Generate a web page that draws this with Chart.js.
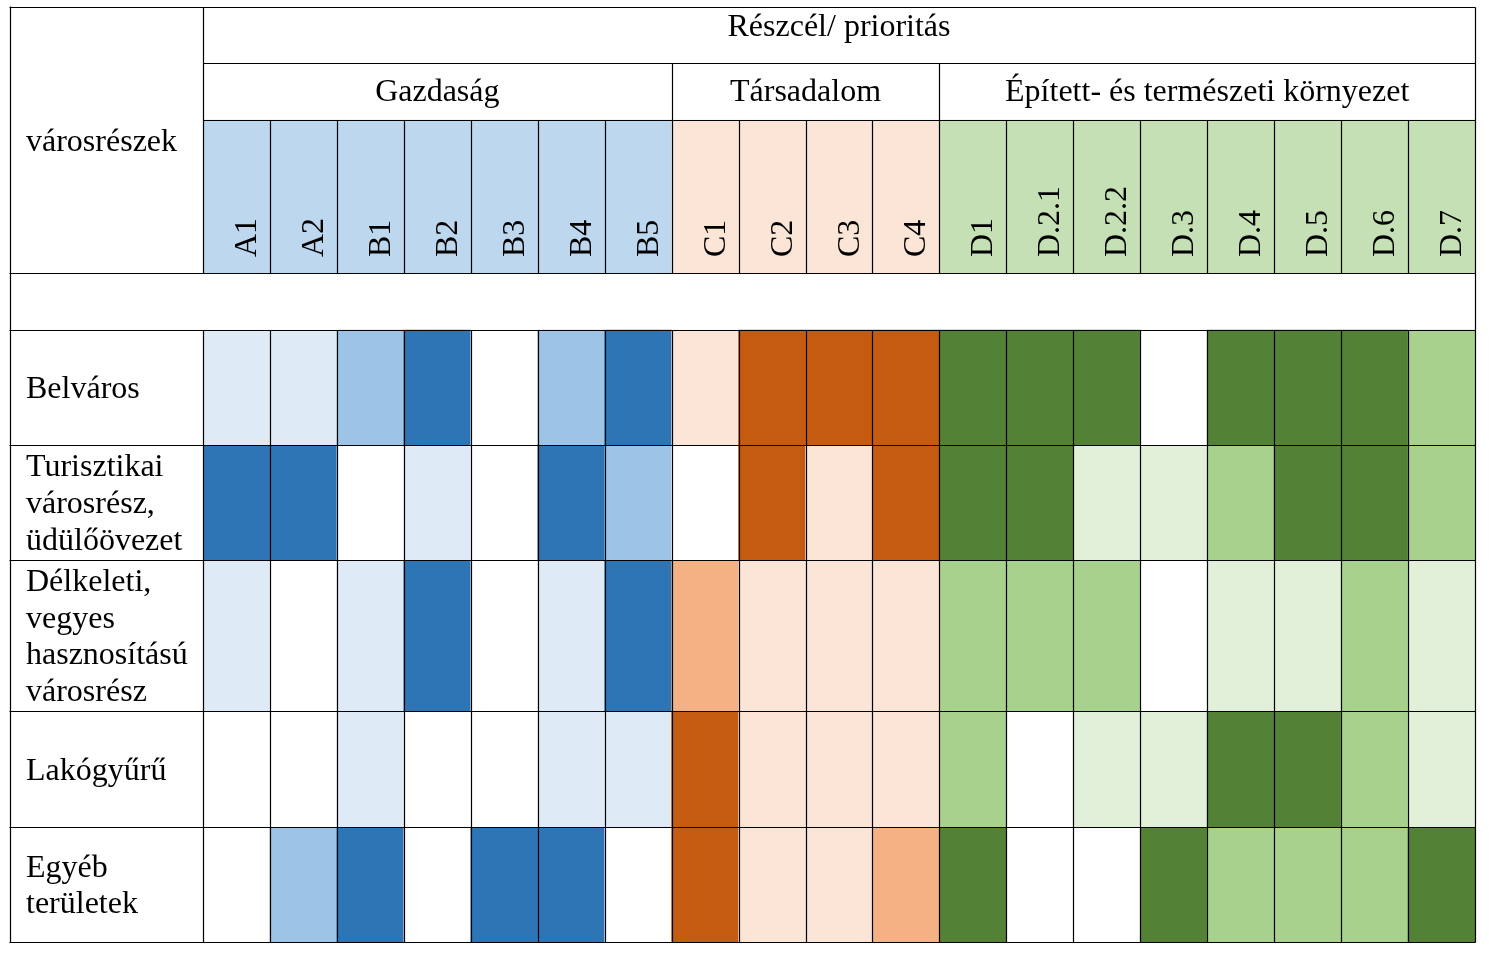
<!DOCTYPE html>
<html>
<head>
<meta charset="utf-8">
<script src="https://cdn.jsdelivr.net/npm/chart.js@4/dist/chart.umd.min.js"></script>
<style>
  html, body { margin: 0; padding: 0; background: #ffffff; }
  canvas { display: block; }
</style>
</head>
<body>
<canvas id="c" width="1489" height="961"></canvas>
<script>
// ---- data ----
const topTitle = 'Részcél/ prioritás';
const cornerLabel = 'városrészek';
const columns = ['A1','A2','B1','B2','B3','B4','B5','C1','C2','C3','C4','D1','D.2.1','D.2.2','D.3','D.4','D.5','D.6','D.7'];
const groupNames = ['Gazdaság', 'Társadalom', 'Épített- és természeti környezet'];
const groupSizes = [7, 4, 8];
const districtNames = [
  ['Belváros'],
  ['Turisztikai', 'városrész,', 'üdülőövezet'],
  ['Délkeleti,', 'vegyes', 'hasznosítású', 'városrész'],
  ['Lakógyűrű'],
  ['Egyéb', 'területek']
];
// priority levels: 0 none, 1 weak, 2 medium, 3 strong
const belvaros    = [1,1,2,3,0,2,3, 1,3,3,3, 3,3,3,0,3,3,3,2];
const turisztikai = [3,3,0,1,0,3,2, 0,3,1,3, 3,3,1,1,2,3,3,2];
const delkeleti   = [1,0,1,3,0,1,3, 2,1,1,1, 2,2,2,0,1,1,2,1];
const lakogyuru   = [0,0,1,0,0,1,1, 3,1,1,1, 2,0,1,1,3,3,2,1];
const egyeb       = [0,2,3,0,3,3,0, 3,1,1,2, 3,0,0,3,2,2,2,3];
const districtValues = [belvaros, turisztikai, delkeleti, lakogyuru, egyeb];

// ---- styles / layout ----
const palettes = [
  { header: '#BDD7EE', levels: ['#FFFFFF', '#DEEBF7', '#9DC3E6', '#2E75B6'] },
  { header: '#FBE5D6', levels: ['#FFFFFF', '#FBE5D6', '#F4B183', '#C55A11'] },
  { header: '#C5E0B4', levels: ['#FFFFFF', '#E2F0D9', '#A9D18E', '#538135'] }
];
// row heights (relative units): title, groups, codes, spacer, 5 districts
const headerHeights = [56, 57, 153, 57];
const districtHeights = [115, 115, 151, 116, 115];
const labelColWidth = 193;
const FONT = '32px "Liberation Serif", "Times New Roman", serif';
const LINE_H = 36.7;

// group index of each column
const colGroup = [];
groupSizes.forEach((n, g) => { for (let i = 0; i < n; i++) colGroup.push(g); });

const allHeights = headerHeights.concat(districtHeights);
const rowEdges = [0];
allHeights.forEach(h => rowEdges.push(rowEdges[rowEdges.length - 1] + h));
const totalH = rowEdges[rowEdges.length - 1];

// datasets: header code row + district rows as floating bars
const datasets = [];
datasets.push({
  label: 'codes',
  data: columns.map(() => [rowEdges[2], rowEdges[3]]),
  backgroundColor: columns.map((c, i) => palettes[colGroup[i]].header)
});
districtValues.forEach((vals, r) => {
  const y0 = rowEdges[4 + r], y1 = rowEdges[5 + r];
  datasets.push({
    label: districtNames[r].join(' '),
    data: vals.map(() => [y0, y1]),
    backgroundColor: vals.map((v, i) => palettes[colGroup[i]].levels[v])
  });
});
datasets.forEach(d => { d.grouped = false; d.barPercentage = 1; d.categoryPercentage = 1; d.borderWidth = 0; });

const tablePlugin = {
  id: 'tablePlugin',
  afterDatasetsDraw(chart) {
    const ctx = chart.ctx;
    const xs = chart.scales.x, ys = chart.scales.y;
    const ca = chart.chartArea;
    const n = columns.length;
    const colW = (ca.right - ca.left) / n;
    const colEdge = i => ca.left + i * colW;
    const Y = v => ys.getPixelForValue(v);
    const leftX = ca.left - labelColWidth;
    const crisp = v => Math.round(v) + 0.5;

    ctx.save();
    ctx.strokeStyle = '#000000';
    ctx.lineWidth = 1.2;
    const line = (x1, y1, x2, y2) => {
      ctx.beginPath();
      ctx.moveTo(crisp(x1), crisp(y1));
      ctx.lineTo(crisp(x2), crisp(y2));
      ctx.stroke();
    };
    // horizontal lines
    rowEdges.forEach((e, k) => {
      const y = Y(e);
      if (k === 1 || k === 2) line(ca.left, y, ca.right, y);
      else line(leftX - 1, y, ca.right, y);
    });
    // outer verticals
    line(leftX, Y(0) - 1, leftX, Y(totalH));
    line(ca.right, Y(0), ca.right, Y(totalH));
    // label column divider (all except spacer row)
    line(ca.left, Y(0), ca.left, Y(rowEdges[3]));
    line(ca.left, Y(rowEdges[4]), ca.left, Y(totalH));
    // group dividers in group row
    let acc = 0;
    groupSizes.forEach((s, g) => {
      acc += s;
      if (g < groupSizes.length - 1) line(colEdge(acc), Y(rowEdges[1]), colEdge(acc), Y(rowEdges[2]));
    });
    // column dividers in code row and district rows
    for (let i = 1; i < n; i++) {
      line(colEdge(i), Y(rowEdges[2]), colEdge(i), Y(rowEdges[3]));
      line(colEdge(i), Y(rowEdges[4]), colEdge(i), Y(totalH));
    }

    // texts
    ctx.fillStyle = '#000000';
    ctx.font = FONT;
    ctx.textBaseline = 'alphabetic';
    ctx.textAlign = 'center';
    ctx.fillText(topTitle, (ca.left + ca.right) / 2, Y(rowEdges[0]) + 29);
    acc = 0;
    groupSizes.forEach((s, g) => {
      const x0 = colEdge(acc), x1 = colEdge(acc + s);
      acc += s;
      ctx.fillText(groupNames[g], (x0 + x1) / 2, Y(rowEdges[1]) + 38);
    });
    // corner label
    ctx.textAlign = 'left';
    ctx.fillText(cornerLabel, leftX + 16, (Y(rowEdges[0]) + Y(rowEdges[3])) / 2 + 10.5);
    // district labels
    districtNames.forEach((lines, r) => {
      const cy = (Y(rowEdges[4 + r]) + Y(rowEdges[5 + r])) / 2;
      lines.forEach((t, k) => {
        ctx.fillText(t, leftX + 16, cy + (k - (lines.length - 1) / 2) * LINE_H + 10.5);
      });
    });
    // rotated column codes
    columns.forEach((c, i) => {
      const cx = xs.getPixelForValue(i);
      ctx.save();
      ctx.translate(cx + 19.5, Y(rowEdges[3]) - 16);
      ctx.rotate(-Math.PI / 2);
      ctx.textAlign = 'left';
      ctx.fillText(c, 0, 0);
      ctx.restore();
    });
    ctx.restore();
  }
};

new Chart(document.getElementById('c'), {
  type: 'bar',
  data: { labels: columns, datasets: datasets },
  options: {
    responsive: false,
    animation: false,
    devicePixelRatio: 1,
    layout: { padding: { left: 203, top: 7, right: 14, bottom: 19 } },
    plugins: { legend: { display: false }, tooltip: { enabled: false }, title: { display: false } },
    scales: {
      x: { type: 'category', display: false, offset: true, grid: { display: false } },
      y: { type: 'linear', display: false, reverse: true, min: 0, max: totalH, grid: { display: false } }
    }
  },
  plugins: [tablePlugin]
});
</script>
</body>
</html>
